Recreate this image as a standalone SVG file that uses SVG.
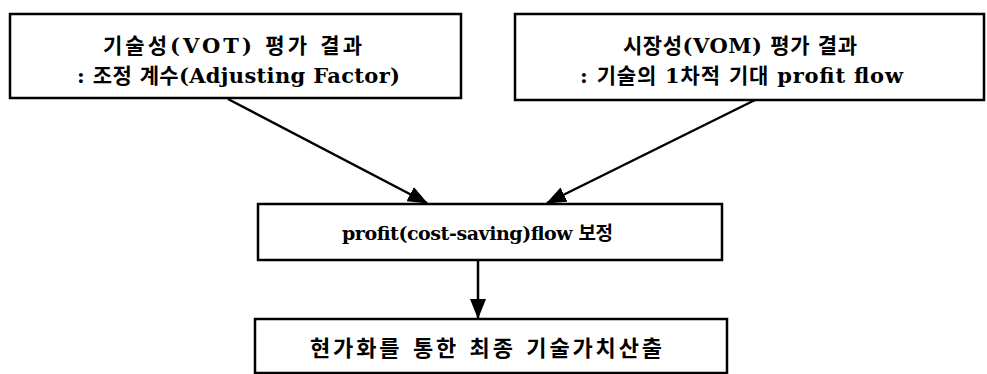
<svg xmlns="http://www.w3.org/2000/svg" width="987" height="374" viewBox="0 0 987 374">
<style>
.box{fill:#fff;stroke:#000;stroke-width:2.5}
.t{font-family:"DejaVu Serif","Noto Sans CJK KR",serif;font-size:21px;font-weight:bold;fill:#000}
.c{stroke:#000;stroke-width:2.5;fill:none;marker-end:url(#ah)}
</style>
<defs>
<marker id="ah" markerUnits="userSpaceOnUse" markerWidth="20" markerHeight="16" refX="19" refY="8" orient="auto">
<path d="M0,0 L20,8 L0,16 Z" fill="#000"/>
</marker>
</defs>
<rect width="987" height="374" fill="#fff"/>
<g id="connectors">
<line class="c" x1="228" y1="99" x2="427" y2="203"/>
<line class="c" x1="755" y1="100" x2="547" y2="203"/>
<line class="c" x1="478" y1="260" x2="478" y2="318"/>
</g>
<g id="node-vot">
<rect class="box" x="10" y="14" width="451" height="84"/>
<text class="t" x="103" y="53" textLength="259" lengthAdjust="spacing">기술성(VOT) 평가 결과</text>
<text class="t" x="77" y="83" textLength="323" lengthAdjust="spacing">: 조정 계수(Adjusting Factor)</text>
</g>
<g id="node-vom">
<rect class="box" x="515" y="14" width="469" height="86"/>
<text class="t" x="623" y="53" textLength="234" lengthAdjust="spacing">시장성(VOM) 평가 결과</text>
<text class="t" x="580" y="83" textLength="323" lengthAdjust="spacing">: 기술의 1차적 기대 profit flow</text>
</g>
<g id="node-profit">
<rect class="box" x="258" y="204" width="464" height="56"/>
<text class="t" x="342" y="240" style="font-size:19px" textLength="271" lengthAdjust="spacing">profit(cost-saving)flow  보정</text>
</g>
<g id="node-final">
<rect class="box" x="255" y="319" width="472" height="54"/>
<text class="t" x="310" y="356" style="font-size:22px" textLength="352" lengthAdjust="spacing">현가화를 통한 최종 기술가치산출</text>
</g>
</svg>
